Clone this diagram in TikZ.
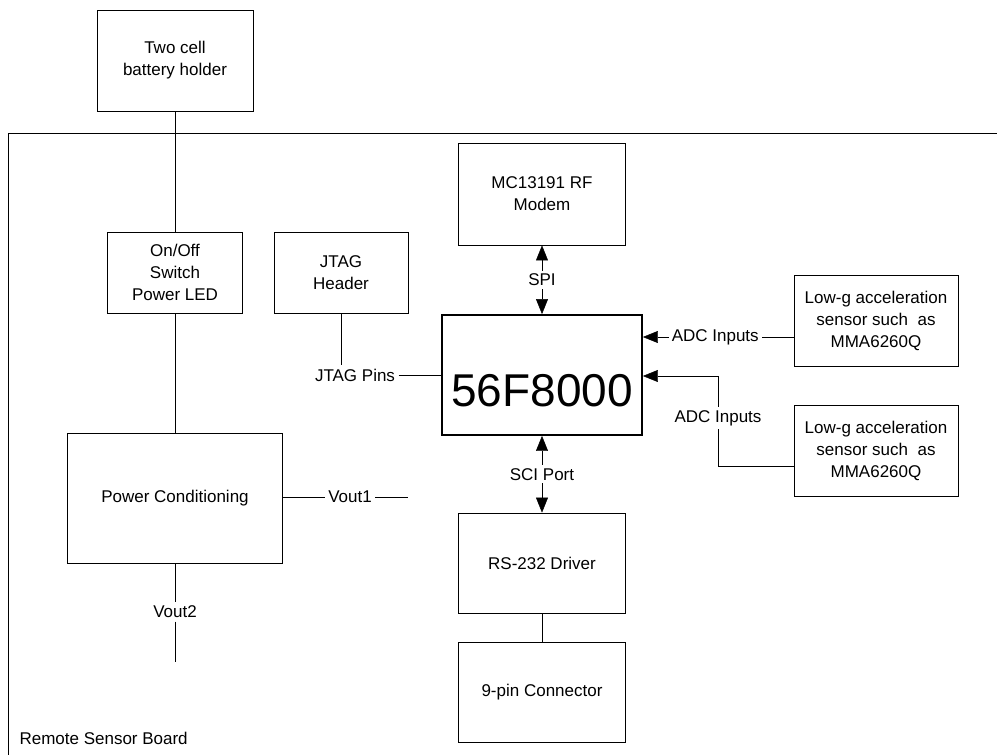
\documentclass[tikz,border=0pt]{standalone}
\usepackage{fontspec}
\setmainfont{Liberation Sans}
\usetikzlibrary{arrows.meta,positioning}
\begin{document}
\begin{tikzpicture}[x=1pt,y=-1pt,>={Triangle[length=15pt,width=12pt]},font=\fontsize{17}{22}\selectfont]
  \tikzstyle{blk}=[draw,line width=0.8pt,align=center,inner sep=4pt]
  \tikzstyle{lbl}=[fill=white,inner sep=3pt]
  \useasboundingbox (0,0) rectangle (997,755);
  % board outline
  \draw[line width=0.8pt] (8,755) -- (8,133) -- (997,133);
  \node[anchor=west] (board) at (16,738) {Remote Sensor Board};
  % blocks
  \node[blk,minimum width=156pt,minimum height=101pt] (bat) at (175,60.5) {Two cell\\battery holder};
  \node[blk,minimum width=135pt,minimum height=81pt] (onoff) at (175,272.5) {On/Off\\Switch\\Power LED};
  \node[blk,minimum width=134pt,minimum height=81pt] (jtag) at (341,272.5) {JTAG\\Header};
  \node[blk,minimum width=167pt,minimum height=102pt] (modem) at (542,194) {MC13191 RF\\Modem};
  \node[blk,line width=1.8pt,minimum width=200pt,minimum height=120pt,text height=62pt,text depth=0pt,font=\fontsize{46}{50}\selectfont] (mcu) at (542,375) {56F8000};
  \node[blk,minimum width=167pt,minimum height=100pt] (rs) at (542,563) {RS-232 Driver};
  \node[blk,minimum width=167pt,minimum height=100pt] (conn) at (542,692) {9-pin Connector};
  \node[blk,minimum width=215pt,minimum height=130pt] (power) at (175,498) {Power Conditioning};
  \node[blk,minimum width=164pt,minimum height=91pt] (sens1) at (876,321) {Low-g acceleration\\sensor such\ \ as\\MMA6260Q};
  \node[blk,minimum width=164pt,minimum height=91pt] (sens2) at (876,451) {Low-g acceleration\\sensor such\ \ as\\MMA6260Q};
  % labels with free ends
  \node (pins) at (355,375) {JTAG Pins};
  \node (v1) at (350,497) {Vout1};
  \coordinate (v1end) at (408,497);
  \node (v2) at (175,612) {Vout2};
  \coordinate (v2end) at (175,662);
  \node (adc2) at (718,418) {ADC Inputs};
  % connectors
  \draw (bat) -- (onoff);
  \draw (onoff) -- (power);
  \draw (jtag) -- (jtag |- pins.north);
  \draw (pins) -- (mcu);
  \draw[<->] (modem) -- node[lbl] {SPI} (mcu);
  \draw[<->] (mcu) -- node[lbl] {SCI Port} (rs);
  \draw (rs) -- (conn);
  \draw (power.east |- v1) -- (v1);
  \draw (v1) -- (v1end);
  \draw (power) -- (v2);
  \draw (v2) -- (v2end);
  \draw[->] (sens1.west |- 0,337) -- node[lbl,pos=0.52] {ADC Inputs} (mcu.east |- 0,337);
  \draw (sens2.west |- 0,466) -| (adc2);
  \draw[->] (adc2) |- (mcu.east |- 0,376);
\end{tikzpicture}
\end{document}
